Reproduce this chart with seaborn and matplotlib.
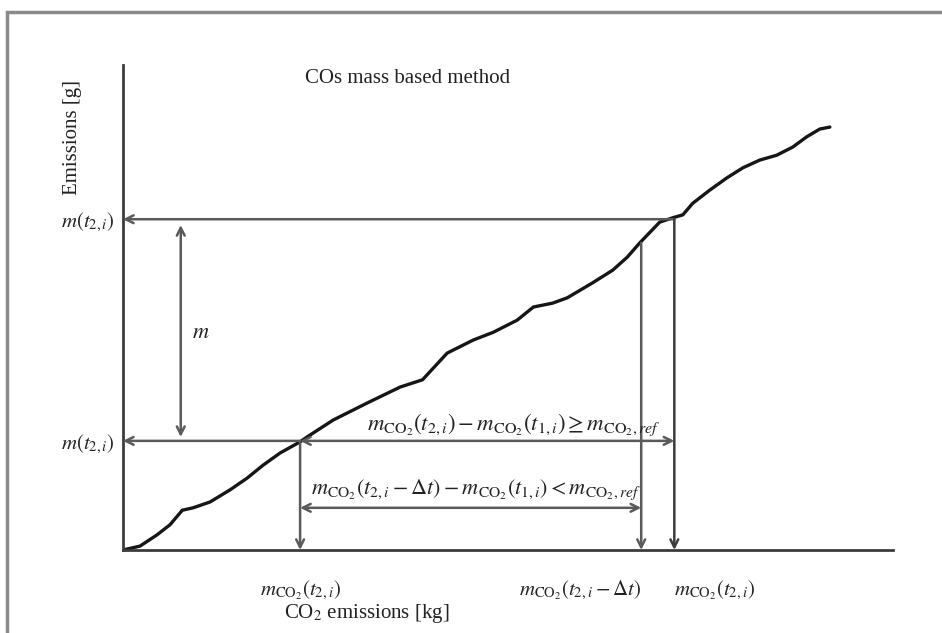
import matplotlib
matplotlib.use("Agg")
import matplotlib.pyplot as plt
import seaborn as sns
import pandas as pd
from matplotlib.patches import Rectangle

# ---- data ----
co2_kg = [0, 2.2, 4.4, 6.1, 7.7, 9.1, 11.3, 13.9, 16.1, 18.2, 20.4, 23.0, 23.9,
          27.3, 31.7, 36.0, 38.9, 42.1, 45.5, 48.1, 51.2, 53.3, 55.8, 57.7, 61.0,
          63.6, 65.5, 67.1, 69.7, 71.4, 72.7, 74.0, 76.2, 78.4, 80.5, 82.7, 84.9,
          87.0, 88.8, 90.5, 91.8]
emis_g = [0, 0.8, 3.1, 5.2, 8.2, 8.7, 9.9, 12.4, 14.8, 17.5, 20.0, 22.3, 23.3,
          26.8, 30.3, 33.6, 35.1, 40.6, 43.3, 44.9, 47.4, 50.1, 50.9, 52.0, 55.1,
          57.7, 60.4, 63.3, 67.6, 68.5, 69.1, 71.5, 74.2, 76.7, 78.8, 80.4, 81.4,
          83.1, 85.2, 86.8, 87.2]

x_t1 = 23.0      # m_CO2(t_2,i) first crossing
x_dt = 67.3      # m_CO2(t_2,i - dt)
x_t2 = 71.6      # m_CO2(t_2,i)
y_low = 22.5
y_high = 68.2
y_dt_curve = 63.3
y_inner = 8.7
x_m = 7.5
y_m_top = 67.0
y_m_bot = 23.3

ytick_labels = [r"$m(t_{2,i})$", r"$m(t_{2,i})$"]
xtick_labels = [r"$m_{\mathrm{CO}_2}(t_{2,i})$",
                r"$m_{\mathrm{CO}_2}(t_{2,i}-\Delta t)$",
                r"$m_{\mathrm{CO}_2}(t_{2,i})$"]
title_text = "COs mass based method"
ylabel_text = "Emissions [g]"
xlabel_text = r"CO$_2$ emissions [kg]"
cond1 = r"$m_{\mathrm{CO}_2}(t_{2,i}) - m_{\mathrm{CO}_2}(t_{1,i}) \geq m_{\mathrm{CO}_2,ref}$"
cond2 = r"$m_{\mathrm{CO}_2}(t_{2,i}-\Delta t) - m_{\mathrm{CO}_2}(t_{1,i}) < m_{\mathrm{CO}_2,ref}$"

# ---- style ----
sns.set_theme(style="white")
plt.rcParams["font.family"] = ["Liberation Serif", "DejaVu Serif"]
plt.rcParams["mathtext.fontset"] = "stix"

fig = plt.figure(figsize=(9.42, 6.33), dpi=100)
ax = fig.add_axes([123 / 942, 83 / 633, 770 / 942, 485 / 633])
ax.set_xlim(0, 100)
ax.set_ylim(0, 100)

axis_col = "#3c3c3c"
line_col = "#5a5a5a"

df = pd.DataFrame({"co2": co2_kg, "em": emis_g})
sns.lineplot(data=df, x="co2", y="em", ax=ax, color="#161616", lw=2.4,
             sort=False, estimator=None)

for s in ["top", "right"]:
    ax.spines[s].set_visible(False)
for s in ["left", "bottom"]:
    ax.spines[s].set_color(axis_col)
    ax.spines[s].set_linewidth(2.0)

ap = dict(arrowstyle="->", color=line_col, lw=1.8, shrinkA=0, shrinkB=0,
          mutation_scale=14)
ap2 = dict(arrowstyle="<->", color=line_col, lw=1.8, shrinkA=0, shrinkB=0,
           mutation_scale=14)

# top horizontal to y axis
ax.annotate("", xy=(0, y_high), xytext=(x_t2, y_high), arrowprops=ap)
# vertical at x_t2 down to x axis
ax.annotate("", xy=(x_t2, 0), xytext=(x_t2, y_high), arrowprops=dict(ap, color=axis_col))
# vertical at x_dt down
ax.annotate("", xy=(x_dt, 0), xytext=(x_dt, y_dt_curve), arrowprops=ap)
# lower horizontal: left to y axis and right to x_t2
ax.annotate("", xy=(0, y_low), xytext=(x_t1, y_low), arrowprops=ap)
ax.annotate("", xy=(x_t2, y_low), xytext=(x_t1, y_low), arrowprops=ap2)
# vertical at x_t1 down
ax.annotate("", xy=(x_t1, 0), xytext=(x_t1, y_low), arrowprops=ap)
# inner double arrow
ax.annotate("", xy=(x_dt, y_inner), xytext=(x_t1, y_inner), arrowprops=ap2)
# m double arrow
ax.annotate("", xy=(x_m, y_m_top), xytext=(x_m, y_m_bot), arrowprops=ap2)
ax.text(x_m + 2.6, 44.7, r"$m$", fontsize=16, ha="center", va="center", color="#222")

# ticks / labels
ax.set_yticks([y_high, y_low])
ax.set_yticklabels(ytick_labels, fontsize=15, color="#222")
ax.set_xticks([x_t1, x_dt, x_t2])
ax.set_xticklabels(xtick_labels, fontsize=15, color="#222")
ax.tick_params(axis="both", length=0)
ax.tick_params(axis="x", pad=21)
ax.tick_params(axis="y", pad=6)
xl = ax.get_xticklabels()
xl[1].set_ha("right")
xl[2].set_ha("left")
ax.set_xlabel("")
ax.set_ylabel("")

ax.text(0.317, -0.13, xlabel_text, transform=ax.transAxes, fontsize=15,
        ha="center", va="center", color="#222")
ax.text(-0.066, 0.85, ylabel_text, transform=ax.transAxes, fontsize=15,
        rotation=90, ha="center", va="center", color="#222")
ax.text(0.37, 0.973, title_text, transform=ax.transAxes, fontsize=15,
        ha="center", va="center", color="#222")

ax.text(50.7, y_low + 0.6, cond1, fontsize=16.5, ha="center", va="bottom", color="#222")
ax.text(45.8, y_inner + 1.2, cond2, fontsize=16, ha="center", va="bottom", color="#222")

# outer frame (top and left visible)
fig.patches.append(Rectangle((7 / 942, -0.1), 1.2, 1.1 - 12 / 633,
                             transform=fig.transFigure, fill=False,
                             edgecolor="#8a8a8a", lw=2.5))

fig.savefig("out.png", dpi=100)
